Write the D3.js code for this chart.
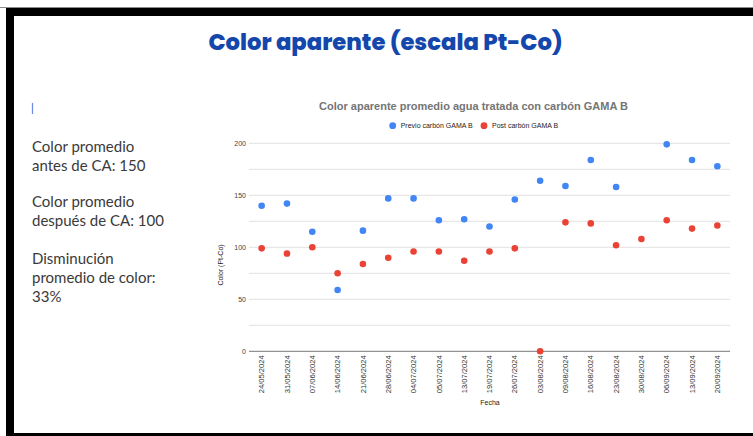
<!DOCTYPE html>
<html>
<head>
<meta charset="utf-8">
<script src="https://cdn.jsdelivr.net/npm/d3@7"></script>
<style>
  body { margin: 0; background: #fff; }
  svg { display: block; }
</style>
</head>
<body>
<svg id="canvas" width="753" height="436"></svg>
<script>
const fechas = ['24/05/2024', '31/05/2024', '07/06/2024', '14/06/2024', '21/06/2024', '28/06/2024',
  '04/07/2024', '05/07/2024', '13/07/2024', '19/07/2024', '26/07/2024', '03/08/2024', '09/08/2024',
  '16/08/2024', '23/08/2024', '30/08/2024', '06/09/2024', '13/09/2024', '20/09/2024'];
const previo = [140, 142, 115, 59, 116, 147, 147, 126, 127, 120, 146, 164, 159, 184, 158, null, 199, 184, 178];
const post = [99, 94, 100, 75, 84, 90, 96, 96, 87, 96, 99, 0, 124, 123, 102, 108, 126, 118, 121];
const yTicks = [0, 50, 100, 150, 200];
const yGrid = [25, 50, 75, 100, 125, 150, 175, 200];
const series = [
  { name: 'Previo carbón GAMA B', values: previo, color: '#4285f4' },
  { name: 'Post carbón GAMA B', values: post, color: '#ea4335' }
];
const notas = [
  ['Color promedio', 'antes de CA: 150'],
  ['Color promedio', 'después de CA: 100'],
  ['Disminución', 'promedio de color:', '33%']
];

const svg = d3.select('#canvas');

// slide frame
svg.append('rect').attr('x', 0).attr('y', 7).attr('width', 753).attr('height', 1).attr('fill', '#8a8a8a');
svg.append('rect').attr('x', 6).attr('y', 8).attr('width', 747).attr('height', 8).attr('fill', '#000');
svg.append('rect').attr('x', 6).attr('y', 8).attr('width', 8).attr('height', 428).attr('fill', '#000');
svg.append('rect').attr('x', 6).attr('y', 433).attr('width', 747).attr('height', 3).attr('fill', '#000');

svg.append('text')
  .attr('x', 385.5).attr('y', 50)
  .attr('text-anchor', 'middle')
  .style('font-family', 'Poppins, "Noto Sans", sans-serif')
  .style('font-weight', 800)
  .style('font-size', '22.7px')
  .attr('fill', '#1447ac')
  .text('Color aparente (escala Pt-Co)');

// left notes
svg.append('text')
  .attr('x', 31).attr('y', 111.5)
  .style('font-family', 'Lato, sans-serif')
  .style('font-size', '11px')
  .attr('fill', '#1a56c4')
  .text('|');

const blockY = [152, 207, 264];
notas.forEach((lines, i) => {
  const t = svg.append('text')
    .attr('x', 32).attr('y', blockY[i])
    .style('font-family', 'Lato, "Noto Sans", sans-serif')
    .style('font-size', '15px')
    .attr('fill', '#3a3a3a');
  lines.forEach((line, j) => {
    t.append('tspan').attr('x', 32).attr('dy', j === 0 ? 0 : 19).text(line);
  });
});

// chart
const x = d3.scaleBand().domain(fechas).range([249, 730]);
const y = d3.scaleLinear().domain([0, 200]).range([351.3, 143.3]);
const chartFont = 'Arial, "Liberation Sans", sans-serif';

svg.append('g').selectAll('line')
  .data(yGrid)
  .enter()
  .append('line')
  .attr('x1', 249).attr('x2', 730)
  .attr('y1', (d) => y(d)).attr('y2', (d) => y(d))
  .attr('stroke', '#e2e2e2')
  .attr('stroke-width', 1);

const yAxis = svg.append('g')
  .attr('transform', 'translate(249,0)')
  .call(d3.axisLeft(y).tickValues(yTicks).tickSize(0).tickPadding(3));
yAxis.select('.domain').remove();
yAxis.selectAll('text')
  .style('font-family', chartFont)
  .style('font-size', '7px')
  .attr('fill', '#444');

svg.append('line')
  .attr('x1', 249).attr('x2', 730)
  .attr('y1', y(0)).attr('y2', y(0))
  .attr('stroke', '#777')
  .attr('stroke-width', 1);

const xAxis = svg.append('g')
  .attr('transform', `translate(0,${y(0)})`)
  .call(d3.axisBottom(x).tickSize(0).tickPadding(0));
xAxis.select('.domain').remove();
xAxis.selectAll('text')
  .style('font-family', chartFont)
  .style('font-size', '7.6px')
  .attr('fill', '#333')
  .attr('text-anchor', 'end')
  .attr('transform', 'rotate(-90)')
  .attr('x', -4)
  .attr('y', 0)
  .attr('dy', '0.35em');

series.forEach((s) => {
  svg.append('g').selectAll('circle')
    .data(s.values.map((v, i) => ({ fecha: fechas[i], v })).filter((d) => d.v !== null))
    .enter()
    .append('circle')
    .attr('cx', (d) => x(d.fecha) + x.bandwidth() / 2)
    .attr('cy', (d) => y(d.v))
    .attr('r', 3.3)
    .attr('fill', s.color);
});

svg.append('text')
  .attr('x', 473.5).attr('y', 110)
  .attr('text-anchor', 'middle')
  .style('font-family', chartFont)
  .style('font-weight', 'bold')
  .style('font-size', '11px')
  .attr('fill', '#757575')
  .text('Color aparente promedio agua tratada con carbón GAMA B');

const legendX = [392.7, 484];
series.forEach((s, i) => {
  svg.append('circle').attr('cx', legendX[i]).attr('cy', 125.7).attr('r', 3.4).attr('fill', s.color);
  svg.append('text')
    .attr('x', legendX[i] + 8).attr('y', 128.2)
    .style('font-family', chartFont)
    .style('font-size', '7px')
    .attr('fill', '#222')
    .text(s.name);
});

svg.append('text')
  .attr('transform', 'translate(223,265) rotate(-90)')
  .attr('text-anchor', 'middle')
  .style('font-family', chartFont)
  .style('font-size', '7px')
  .attr('fill', '#222')
  .text('Color (Pt-Co)');

svg.append('text')
  .attr('x', 490).attr('y', 405)
  .attr('text-anchor', 'middle')
  .style('font-family', chartFont)
  .style('font-size', '7px')
  .attr('fill', '#222')
  .text('Fecha');
</script>
</body>
</html>
